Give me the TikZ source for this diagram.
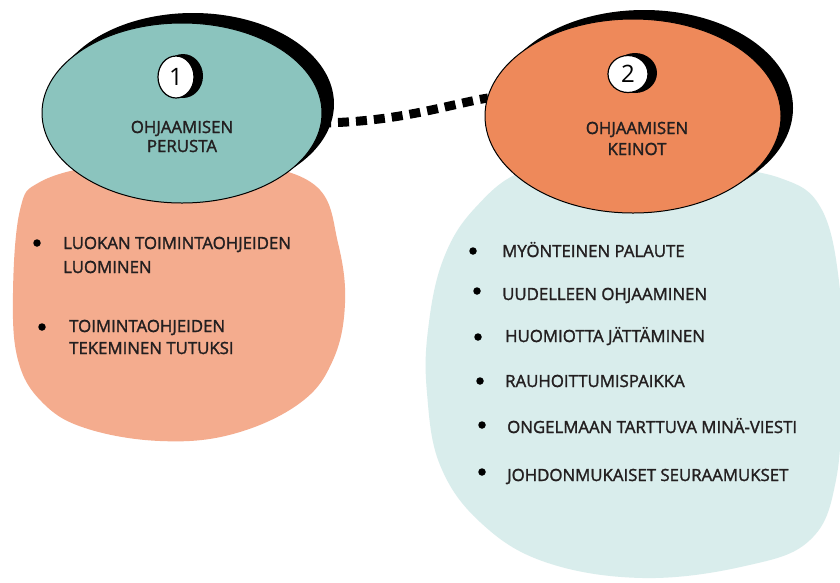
\documentclass[tikz,border=0pt]{standalone}
\usepackage{fontspec}
\setmainfont{Open Sans}[FakeBold=1.6]
\newfontfamily\numfont{Open Sans}
\usetikzlibrary{shapes.geometric}
\definecolor{tealc}{HTML}{8BC4BE}
\definecolor{salmonc}{HTML}{F4AC8E}
\definecolor{orangec}{HTML}{EE895A}
\definecolor{lightc}{HTML}{D9EDEC}
\definecolor{inkc}{HTML}{231F20}
\tikzset{
  bigell/.style={ellipse, draw=black, line width=1pt, inner sep=0pt},
  shadowell/.style={ellipse, fill=black, inner sep=0pt},
  numell/.style={ellipse, draw=black, line width=1.2pt, fill=white, inner sep=0pt, font=\numfont\fontsize{24}{24}\selectfont, text=black},
  numshadow/.style={ellipse, fill=black, inner sep=0pt},
  titletxt/.style={anchor=base, inner sep=0pt, text=inkc, font=\fontsize{16.8}{20}\selectfont},
  itemtxt/.style={anchor=base west, inner sep=0pt, text=inkc, font=\fontsize{16.8}{20}\selectfont},
  bulletdot/.style={circle, fill=black, inner sep=0pt, minimum size=7.5pt},
  linkline/.style={line width=9pt, dash pattern=on 11pt off 7pt, black}
}
\begin{document}
\begin{tikzpicture}[x=1pt,y=-1pt]
\useasboundingbox (0,0) rectangle (840,582);
\fill[white] (0,0) rectangle (840,582);

% background blobs
\fill[salmonc] plot[smooth cycle, tension=0.65] coordinates {
  (20,210) (13,293) (18,360) (42,402) (85,428) (160,441) (233,434)
  (300,403) (333,360) (345,303) (338,243) (317,187) (250,163)
  (178,158) (100,165) (40,182)};
\fill[lightc] plot[smooth cycle, tension=0.65] coordinates {
  (527,170) (475,208) (443,260) (428,330) (427,393) (440,465) (480,522)
  (545,562) (643,578) (745,566) (810,540) (836,480) (842,380) (840,290)
  (822,210) (780,178) (700,166) (610,164)};

% connector (under ellipses)
\coordinate (ls) at (320,123);
\coordinate (le) at (488,98);
\draw[linkline] (ls) .. controls (400,122) and (450,104) .. (le);

% left ellipse
\node[shadowell, minimum width=282pt, minimum height=182pt] (s1) at (193,104) {};
\node[bigell, fill=tealc, minimum width=280pt, minimum height=180pt] (e1) at (182,113) {};
% right ellipse
\node[shadowell, minimum width=298pt, minimum height=196pt] (s2) at (644,108) {};
\node[bigell, fill=orangec, minimum width=296pt, minimum height=194pt] (e2) at (633,116) {};

% number circles
\node[numshadow, minimum width=40pt, minimum height=44pt] (n1s) at (183,76) {};
\node[numell, minimum width=36pt, minimum height=42pt] (n1) at (176,77) {1};
\node[numshadow, minimum width=44pt, minimum height=40pt] (n2s) at (635,73) {};
\node[numell, minimum width=40pt, minimum height=37pt] (n2) at (628,74) {2};

% titles
\node[titletxt] (t1a) at (182,133) {OHJAAMISEN};
\node[titletxt] (t1b) at (182,152) {PERUSTA};
\node[titletxt] (t2a) at (637,134) {OHJAAMISEN};
\node[titletxt] (t2b) at (637,155) {KEINOT};

% left items
\node[bulletdot] (b1) at (37,243) {};
\node[itemtxt] (l1a) at (63,249) {LUOKAN TOIMINTAOHJEIDEN};
\node[itemtxt] (l1b) at (63,273) {LUOMINEN};
\node[bulletdot] (b2) at (42,327) {};
\node[itemtxt] (l2a) at (69,332) {TOIMINTAOHJEIDEN};
\node[itemtxt] (l2b) at (69,354) {TEKEMINEN TUTUKSI};

% right items
\node[bulletdot] (r1b) at (473,251) {};
\node[itemtxt] (r1) at (502,257) {MYÖNTEINEN PALAUTE};
\node[bulletdot] (r2b) at (477,291) {};
\node[itemtxt] (r2) at (502,300) {UUDELLEEN OHJAAMINEN};
\node[bulletdot] (r3b) at (478,337) {};
\node[itemtxt] (r3) at (505,342) {HUOMIOTTA JÄTTÄMINEN};
\node[bulletdot] (r4b) at (480,381) {};
\node[itemtxt] (r4) at (505,387) {RAUHOITTUMISPAIKKA};
\node[bulletdot] (r5b) at (482,425) {};
\node[itemtxt] (r5) at (507,433) {ONGELMAAN TARTTUVA MINÄ-VIESTI};
\node[bulletdot] (r6b) at (482,472) {};
\node[itemtxt] (r6) at (507,481) {JOHDONMUKAISET SEURAAMUKSET};
\end{tikzpicture}
\end{document}
